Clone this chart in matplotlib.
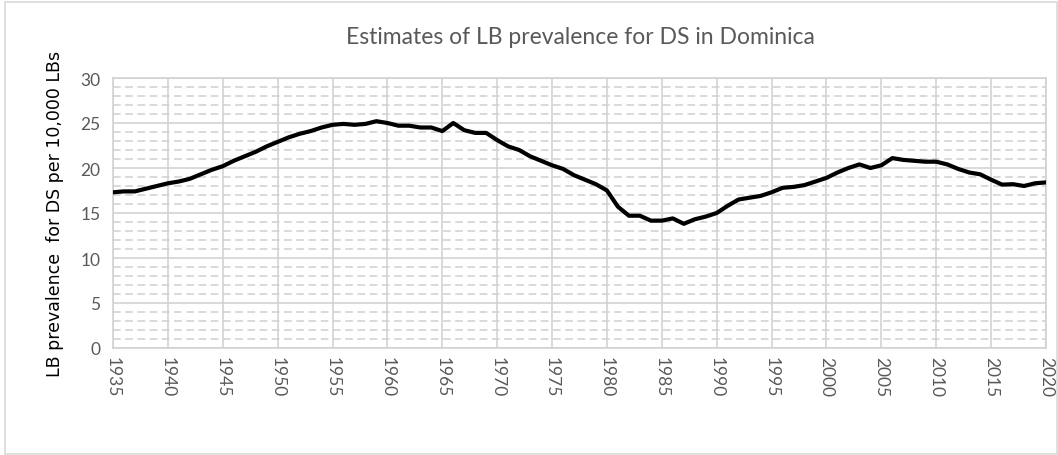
import numpy as np
import matplotlib.pyplot as plt
from matplotlib.patches import Rectangle
from matplotlib.ticker import MultipleLocator

# Datos
anios = np.arange(1935, 2021)
prevalencia = [
    17.3, 17.4, 17.4, 17.7, 18.0, 18.3, 18.5, 18.8, 19.3, 19.8,   # 1935-1944
    20.2, 20.8, 21.3, 21.8, 22.4, 22.9, 23.4, 23.8, 24.1, 24.5,   # 1945-1954
    24.8, 24.9, 24.8, 24.9, 25.2, 25.0, 24.7, 24.7, 24.5, 24.5,   # 1955-1964
    24.1, 25.0, 24.2, 23.9, 23.9, 23.1, 22.4, 22.0, 21.3, 20.8,   # 1965-1974
    20.3, 19.9, 19.2, 18.7, 18.2, 17.5, 15.7, 14.7, 14.7, 14.15,  # 1975-1984
    14.15, 14.4, 13.8, 14.3, 14.6, 15.0, 15.8, 16.5, 16.7, 16.9,  # 1985-1994
    17.3, 17.8, 17.9, 18.1, 18.5, 18.9, 19.5, 20.0, 20.4, 20.0,   # 1995-2004
    20.3, 21.1, 20.9, 20.8, 20.7, 20.7, 20.4, 19.9, 19.5, 19.3,   # 2005-2014
    18.7, 18.15, 18.2, 18.0, 18.3, 18.4,                          # 2015-2020
]
xticks = np.arange(1935, 2021, 5)
yticks = np.arange(0, 31, 5)

titulo = "Estimates of LB prevalence for DS in Dominica"
ylabel = "LB prevalence  for DS per 10,000 LBs"

gris_texto = "#595959"
gris_grilla = "#D0D0D0"

fig = plt.figure(figsize=(10.58, 4.56), dpi=100, facecolor="w")
ax = fig.add_axes([113 / 1058, 1 - 349 / 456, 933 / 1058, 270 / 456])

# Borde del área del gráfico
fig.patches.append(Rectangle((5 / 1058, 1 / 456), 1052 / 1058, 452 / 456,
                             transform=fig.transFigure, fill=False,
                             edgecolor="#D9D9D9", lw=1.2))

ax.plot(anios, prevalencia, color="black", lw=3, solid_joinstyle="round", zorder=4)

ax.set_xlim(1935, 2020)
ax.set_ylim(0, 30)
ax.set_xticks(xticks)
ax.set_yticks(yticks)
ax.yaxis.set_minor_locator(MultipleLocator(1))

ax.grid(True, which="major", color=gris_grilla, lw=1.1, ls="-")
ax.grid(True, which="minor", axis="y", color=gris_grilla, lw=1.1, ls=(0, (5, 3)))
ax.set_axisbelow(True)

for s in ax.spines.values():
    s.set_color(gris_grilla)
    s.set_linewidth(1.1)

ax.tick_params(axis="both", which="both", length=0, labelcolor=gris_texto, labelsize=12.5)
ax.tick_params(axis="y", pad=9)
ax.tick_params(axis="x", pad=6)
for lbl in ax.get_xticklabels():
    lbl.set_rotation(-90)
    lbl.set_fontfamily("Lato")
for lbl in ax.get_yticklabels():
    lbl.set_fontfamily("Lato")

ax.set_ylabel(ylabel, fontsize=12.5, color="black", family="DejaVu Sans", labelpad=12)
fig.text(580 / 1058, 1 - 37 / 456, titulo, ha="center", va="center",
         fontsize=16.5, color=gris_texto, family="Lato")

fig.savefig("out.png", dpi=100, facecolor="w")
plt.close(fig)
